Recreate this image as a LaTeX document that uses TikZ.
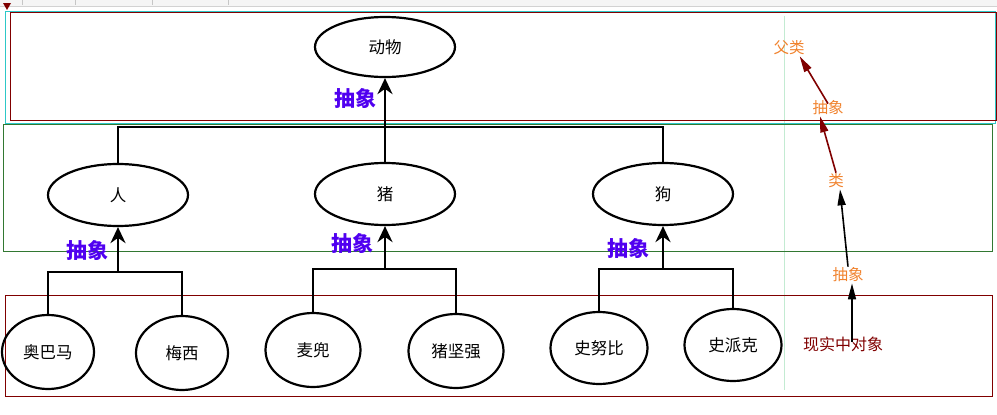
\documentclass[tikz,border=0pt]{standalone}
\usepackage{fontspec}
\setmainfont{Noto Sans CJK SC}
\usepackage{xcolor}
\usetikzlibrary{shapes.geometric,arrows.meta}
\definecolor{frameRed}{RGB}{128,0,0}
\definecolor{frameCyan}{RGB}{45,200,200}
\definecolor{frameGreen}{RGB}{50,120,50}
\definecolor{guideGreen}{RGB}{195,235,210}
\definecolor{absBlue}{RGB}{80,0,240}
\definecolor{noteOrange}{RGB}{240,130,45}

\begin{document}
\begin{tikzpicture}[x=1pt,y=-1pt,
oval/.style={draw,ellipse,line width=2.2pt,inner sep=0pt,minimum width=140pt,minimum height=62pt,font=\fontsize{16.5}{18}\selectfont},
small/.style={oval,minimum width=92pt,minimum height=74pt},
tree/.style={line width=2.5pt},
up/.style={tree,-{Stealth[length=16pt,width=15pt]}},
abs/.style={text=absBlue,font=\bfseries\fontsize{21}{23}\selectfont,inner sep=0pt},
note/.style={text=noteOrange,font=\fontsize{15.5}{17}\selectfont,inner sep=1pt},
thin/.style={line width=1.6pt,-{Triangle[length=16pt,width=8pt]}}
]
\useasboundingbox (0,0) rectangle (997,415);
% toolbar strip
\fill[gray!8] (0,0) rectangle (997,6);
\draw[gray!35] (0,6.5) -- (997,6.5);
\foreach \x in {22,75,152,228} \draw[gray!45] (\x,0) -- (\x,5);
\fill[frameRed] (3,3) -- (11,3) -- (7,10) -- cycle;
% frames
\draw[guideGreen,line width=1pt] (784,16) -- (784,390);
\draw[frameCyan,line width=1pt] (5,11) rectangle (995,123);
\draw[frameRed,line width=1pt] (10,12) rectangle (996,120);
\draw[frameGreen,line width=0.8pt] (3,124) rectangle (992,251);
\draw[frameRed,line width=1pt] (5,295) rectangle (992,396);

\node[oval,minimum height=60pt] (animal) at (385,47) {动物};
\node[oval] (human) at (118,195) {人};
\node[oval] (pig) at (385,194) {猪};
\node[oval] (dog) at (663,194) {狗};
\node[small] (obama) at (48,352) {奥巴马};
\node[small] (messi) at (182,353) {梅西};
\node[small,minimum width=95pt] (mcdull) at (313,350) {麦兜};
\node[small,minimum width=95pt] (strongpig) at (456,351) {猪坚强};
\node[small,minimum width=97pt,minimum height=72pt] (snoopy) at (599,348) {史努比};
\node[small,minimum width=97pt,minimum height=72pt] (spike) at (733,345) {史派克};

% class -> animal
\coordinate (topbar) at (385,127);
\draw[tree] (human.north) |- (topbar) -| (dog.north);
\draw[up] (pig.north) -- (animal.south);
% objects -> classes
\coordinate (humanbar) at (118,272);
\draw[tree] (obama.north) |- (humanbar) -| (messi.north);
\draw[up] (humanbar) -- (human.south);
\coordinate (pigbar) at (385,269);
\draw[tree] (mcdull.north) |- (pigbar) -| (strongpig.north);
\draw[up] (pigbar) -- (pig.south);
\coordinate (dogbar) at (663,269);
\draw[tree] (snoopy.north) |- (dogbar) -| (spike.north);
\draw[up] (dogbar) -- (dog.south);

\node[abs] (absAnimal) at (355,98) {抽象};
\node[abs] (absHuman) at (87,250) {抽象};
\node[abs] (absPig) at (352,243) {抽象};
\node[abs] (absDog) at (628,248) {抽象};

% legend on the right
\node[note] (parent) at (789,48) {父类};
\node[note] (abs1) at (828,108) {抽象};
\node[note] (cls) at (836,181) {类};
\node[note] (abs2) at (848,275) {抽象};
\node[text=frameRed,font=\fontsize{16}{18}\selectfont] (real) at (843,344) {现实中对象};
\coordinate (realtail) at (852,342);
\draw[thin,frameRed] ([yshift=-4pt]abs1.north) -- ([xshift=-6pt]parent.south east);
\draw[thin,frameRed] (cls.north) -- ([xshift=-8pt]abs1.south);
\draw[thin] (abs2.north) -- ([xshift=4pt]cls.south);
\draw[thin] (realtail) -- (realtail |- abs2.south);
\end{tikzpicture}
\end{document}
